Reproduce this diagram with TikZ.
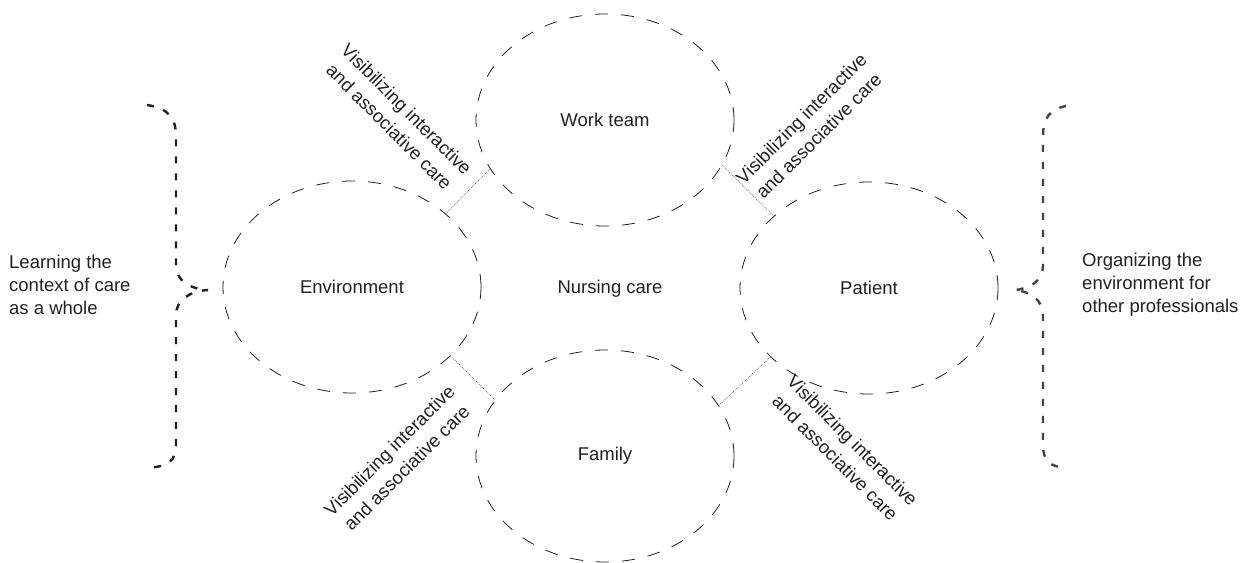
\documentclass[tikz,border=0pt]{standalone}
\usepackage{fontspec}
\setmainfont{Liberation Sans}
\usetikzlibrary{shapes.geometric}
\definecolor{ink}{HTML}{231F20}
\begin{document}
\begin{tikzpicture}[x=1pt,y=-1pt,
  every node/.style={text=ink,font=\fontsize{18.5}{23}\selectfont},
  bubble/.style={draw=ink,ellipse,line width=0.8pt,dash pattern=on 13pt off 13pt,minimum width=258pt,minimum height=212pt,inner sep=0pt},
  link/.style={draw=ink!80,line width=0.6pt,dash pattern=on 0.8pt off 1.2pt},
  bracestyle/.style={draw=ink,line width=2.4pt,dash pattern=on 7pt off 10pt},
  diag/.style={align=center,inner sep=0pt,font=\fontsize{18.5}{24.5}\selectfont}]
\useasboundingbox (0,0) rectangle (1246,562);
% ellipses
\node[bubble] (work) at (605,120) {Work team};
\node[bubble] (env) at (352,287) {Environment};
\node[bubble] (pat) at (869,288) {Patient};
\node[bubble] (fam) at (605,456) {Family};
\node (nurse) at (610,289) {Nursing care};
% dotted links
\draw[link] (env.38) -- (work.203);
\draw[link] (work.-21) -- (pat.143);
\draw[link] (env.-35) -- (fam.153);
\draw[link] (fam.24) -- (pat.215);
% diagonal labels
\node[diag,rotate=-45] (lbl1) at (398,118) {Visibilizing interactive\\and associative care};
\node[diag,rotate=45] (lbl2) at (810,127) {Visibilizing interactive\\and associative care};
\node[diag,rotate=45] (lbl3) at (398,459) {Visibilizing interactive\\and associative care};
\node[diag,rotate=-45] (lbl4) at (844,449) {Visibilizing interactive\\and associative care};
% braces
\coordinate (ltip) at (208,290);
\coordinate (rtip) at (1014,290);
\draw[bracestyle] (147,105) .. controls (168,108) and (176,118) .. (176,136) -- (176,265)
  .. controls (176,281) and (190,289) .. (ltip)
  .. controls (190,291) and (176,300) .. (176,315) -- (176,444)
  .. controls (176,462) and (168,466) .. (148,468);
\draw[bracestyle,draw=ink!85] (1066,106) .. controls (1050,109) and (1043,118) .. (1043,136) -- (1043,265)
  .. controls (1043,281) and (1030,289) .. (rtip)
  .. controls (1030,291) and (1043,300) .. (1043,315) -- (1043,444)
  .. controls (1043,462) and (1050,466) .. (1065,468);
% side texts
\node[align=left,anchor=west,inner sep=0pt] (left) at (9,285) {Learning the\\context of care\\as a whole};
\node[align=left,anchor=west,inner sep=0pt] (right) at (1082,285) {Organizing the\\environment for\\other professionals};
\end{tikzpicture}
\end{document}
